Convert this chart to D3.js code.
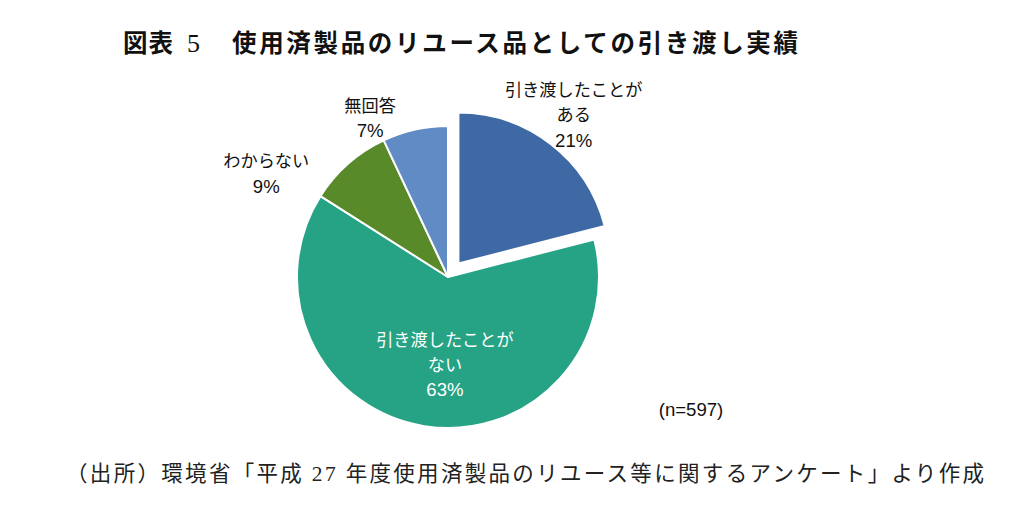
<!DOCTYPE html>
<html>
<head>
<meta charset="utf-8">
<script src="https://cdn.jsdelivr.net/npm/d3@7"></script>
<style>
  html, body { margin: 0; padding: 0; background: #fff; }
  svg { display: block; }
</style>
</head>
<body>
<svg id="chart" width="1024" height="521"></svg>
<script>
// ---- data ----
const categories = ["引き渡したことがある", "引き渡したことがない", "わからない", "無回答"];
const labelLines = [["引き渡したことが", "ある"], ["引き渡したことが", "ない"], ["わからない"], ["無回答"]];
const values = [21, 63, 9, 7];
const colors = ["#3E69A5", "#26A385", "#588A29", "#608BC4"];
const sampleSize = 597;
const titleParts = ["図表", "5", "使用済製品のリユース品としての引き渡し実績"];
const sourceNote = "（出所）環境省「平成 27 年度使用済製品のリユース等に関するアンケート」より作成";

// ---- layout ----
const W = 1024, H = 521;
const cx = 448, cy = 277, R = 151;
const explode = [17, 0, 0, 0];
// label placement: angle offset from slice mid-angle (deg), radius from pie centre, text colour
const labelPlace = [
  { dA: 0, r: 205, fill: "#111" },
  { dA: -7, r: 88, fill: "#fff" },
  { dA: -19, r: 209, fill: "#111" },
  { dA: -13.5, r: 177, fill: "#111" }
];
const lineH = 25;
const labelFont = "'Liberation Sans', Arial, 'Noto Sans CJK JP', sans-serif";
const labelSize = 17.2;
const numSize = 18.6;

const svg = d3.select("#chart");

// Title
const titleFont = "'Noto Sans CJK JP', sans-serif";
const title = svg.append("g").attr("font-family", titleFont).attr("font-weight", 700)
  .attr("font-size", 24.5).attr("fill", "#111");
title.append("text").attr("x", 123).attr("y", 52).attr("textLength", 50).text(titleParts[0]);
title.append("text").attr("x", 187).attr("y", 52).attr("font-family", "'Liberation Serif', serif")
  .attr("font-weight", 400).attr("font-size", 26).text(titleParts[1]);
title.append("text").attr("x", 232).attr("y", 52).attr("textLength", 566)
  .attr("lengthAdjust", "spacing").text(titleParts[2]);

// Pie
const pie = d3.pie().sort(null).value(d => d)(values);
const arc = d3.arc().innerRadius(0).outerRadius(R);

const g = svg.append("g").attr("transform", `translate(${cx},${cy})`);
g.selectAll("path.slice").data(pie).join("path")
  .attr("class", "slice")
  .attr("transform", (d, i) => {
    const m = (d.startAngle + d.endAngle) / 2;
    const o = explode[i];
    return `translate(${o * Math.sin(m)},${-o * Math.cos(m)})`;
  })
  .attr("d", arc)
  .attr("fill", (d, i) => colors[i])
  .attr("stroke", "#fff")
  .attr("stroke-width", 2)
  .attr("stroke-linejoin", "round");

// Labels
const lbl = g.selectAll("g.lbl").data(pie).join("g").attr("class", "lbl")
  .attr("transform", (d, i) => {
    const p = labelPlace[i];
    const m = (d.startAngle + d.endAngle) / 2 + p.dA * Math.PI / 180;
    return `translate(${p.r * Math.sin(m)},${-p.r * Math.cos(m)})`;
  });
lbl.each(function(d, i) {
  const lines = labelLines[i].concat([d3.format("d")(d.data) + "%"]);
  const n = lines.length;
  d3.select(this).selectAll("text").data(lines).join("text")
    .attr("text-anchor", "middle")
    .attr("dominant-baseline", "central")
    .attr("y", (t, j) => (j - (n - 1) / 2) * lineH)
    .attr("font-family", labelFont)
    .attr("font-size", (t, j) => j === n - 1 ? numSize : labelSize)
    .attr("fill", labelPlace[i].fill)
    .text(t => t);
});

// n=
svg.append("text").attr("x", 691).attr("y", 409)
  .attr("text-anchor", "middle").attr("dominant-baseline", "central")
  .attr("font-family", labelFont).attr("font-size", numSize).attr("fill", "#111")
  .text(`(n=${sampleSize})`);

// Source note
svg.append("text").attr("x", 66).attr("y", 481)
  .attr("font-family", "'Liberation Serif', 'Noto Sans CJK JP', serif")
  .attr("font-size", 21.5).attr("fill", "#222")
  .attr("textLength", 918).attr("lengthAdjust", "spacing")
  .text(sourceNote);
</script>
</body>
</html>
